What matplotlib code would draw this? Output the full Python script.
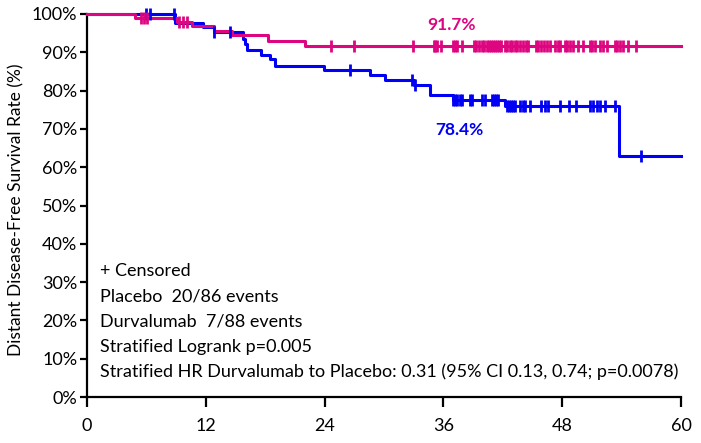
import numpy as np
import matplotlib.pyplot as plt

plt.rcParams['font.family'] = ['Lato', 'DejaVu Sans']

# placebo (blue) step curve: event times (months) and survival after each step (%)
placebo_t = [0, 8.9, 11.7, 12.8, 15.8, 16.0, 16.2, 17.6, 18.5, 19.0, 23.9, 28.6, 30.1, 33.0, 34.6, 37.0, 42.2, 53.7, 60]
placebo_s = [100, 97.6, 96.6, 95.3, 93.5, 92.2, 90.6, 89.4, 88.2, 86.5, 85.4, 84.1, 82.8, 81.5, 78.9, 77.5, 75.9, 63.0, 63.0]
placebo_cens = [6.0, 6.4, 8.8, 12.8, 14.4, 26.6, 32.8, 33.1, 37.0, 37.2, 37.4, 37.7, 37.9, 38.7, 38.9,
                39.9, 40.2, 40.9, 41.1, 41.3, 41.5, 42.4, 42.6, 42.8, 43.0, 43.2, 43.7, 44.0, 44.2, 44.7,
                45.9, 46.3, 46.6, 47.8, 48.7, 49.4, 50.8, 51.1, 51.5, 51.8, 52.3, 53.3, 56.0]

# durvalumab (magenta)
durva_t = [0, 4.85, 9.06, 10.6, 12.8, 14.6, 18.3, 22.0, 60]
durva_s = [100, 98.9, 98.0, 96.9, 95.6, 94.5, 93.0, 91.7, 91.7]
durva_cens = [5.5, 5.8, 6.1, 9.3, 9.7, 10.1, 24.6, 27.0, 32.9, 35.0, 35.2, 35.4, 35.8, 37.0, 37.2, 37.4,
              37.9, 39.1, 39.3, 39.6, 39.9, 40.1, 40.4, 40.6, 40.8, 41.0, 41.2, 41.4, 41.6, 41.8, 42.2,
              42.4, 42.7, 42.9, 43.2, 43.4, 43.7, 44.0, 44.3, 44.5, 45.4, 45.6, 45.9, 46.2, 46.5, 46.8,
              47.3, 47.6, 47.8, 48.3, 48.5, 48.8, 49.1, 49.6, 50.1, 50.8, 51.0, 51.3, 51.8, 52.1, 52.5,
              53.3, 53.5, 53.8, 54.1, 54.6, 55.5]

annot_lines = ["+ Censored",
               "Placebo  20/86 events",
               "Durvalumab  7/88 events",
               "Stratified Logrank p=0.005",
               "Stratified HR Durvalumab to Placebo: 0.31 (95% CI 0.13, 0.74; p=0.0078)"]

blue = '#0000F5'
magenta = '#DE0580'


def level_at(times, surv, x):
    i = np.searchsorted(times, x, side='right') - 1
    return np.array(surv)[i]


fig = plt.figure(figsize=(7.01, 4.43), dpi=100)
ax = fig.add_axes([0.1241, 0.1038, 0.8474, 0.8646])

ax.step(placebo_t, placebo_s, where='post', color=blue, lw=2.2, clip_on=False, zorder=3)
ax.step(durva_t, durva_s, where='post', color=magenta, lw=2.2, clip_on=False, zorder=4)
ax.plot(placebo_cens, level_at(placebo_t, placebo_s, placebo_cens), ls='none', marker='|',
        ms=9, mew=2, color=blue, clip_on=False, zorder=5)
ax.plot(durva_cens, level_at(durva_t, durva_s, durva_cens), ls='none', marker='|',
        ms=9, mew=2, color=magenta, clip_on=False, zorder=5)

ax.text(36.8, 97.0, "91.7%", color=magenta, fontsize=12.5, fontweight='bold', ha='center', va='center')
ax.text(37.6, 69.8, "78.4%", color=blue, fontsize=12.5, fontweight='bold', ha='center', va='center')

for k, line in enumerate(annot_lines):
    ax.text(1.3, 32.9 - k * 6.6, line, fontsize=13, ha='left', va='center')

ax.set_xlim(0, 60)
ax.set_ylim(0, 100)
ax.set_xticks(range(0, 61, 12))
ax.set_yticks(range(0, 101, 10))
ax.set_yticklabels([f"{v}%" for v in range(0, 101, 10)])
ax.set_ylabel("Distant Disease-Free Survival Rate (%)", fontsize=12.5)
ax.yaxis.set_label_coords(-0.105, 0.49)

for side in ['top', 'right']:
    ax.spines[side].set_visible(False)
for side in ['left', 'bottom']:
    ax.spines[side].set_linewidth(1.6)
ax.tick_params(axis='x', length=7, width=1.6, pad=8, labelsize=13)
ax.tick_params(axis='y', length=5, width=1.6, pad=2, labelsize=13)

plt.savefig("out.png", dpi=100)
